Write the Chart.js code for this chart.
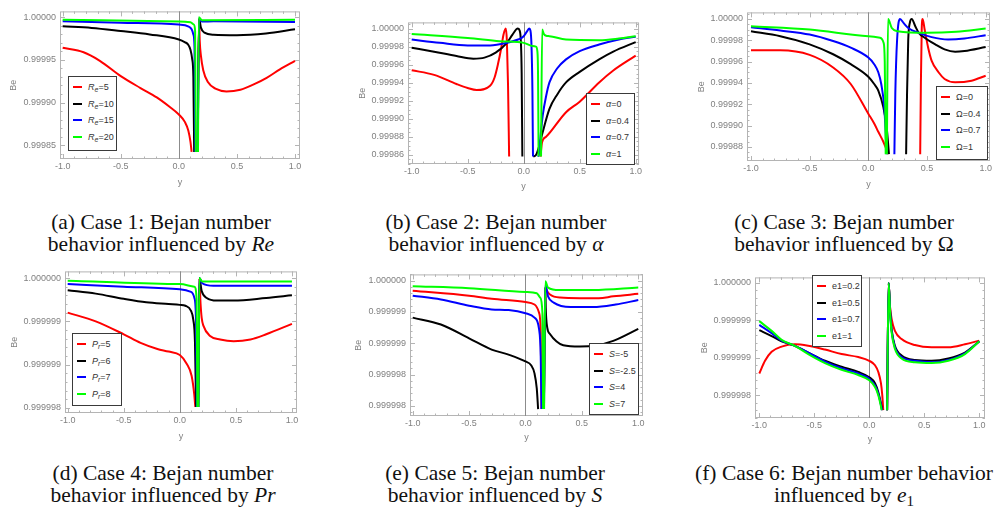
<!DOCTYPE html>
<html>
<head>
<meta charset="utf-8">
<script src="https://cdn.jsdelivr.net/npm/chart.js@4.4.1/dist/chart.umd.min.js"></script>
<style>
  body { margin: 0; width: 995px; height: 510px; background: #fff; position: relative; overflow: hidden; }
  canvas { position: absolute; }
  .legend { position: absolute; background: #fff; border: 1.3px solid #3a3a3a; box-sizing: border-box; }
  .legend .row { position: absolute; left: 0; height: 0; }
  .legend .sw { position: absolute; left: 4px; top: -1px; width: 9px; height: 2px; }
  .legend .lt { position: absolute; left: 19px; top: -6px; font-family: 'Liberation Sans', Arial, sans-serif; font-size: 9px; line-height: 12px; color: #333; white-space: nowrap; }
  .legend sub { font-size: 7px; vertical-align: -2px; line-height: 0; }
  .caption { position: absolute; width: 360px; text-align: center; font-family: 'Liberation Serif', 'DejaVu Serif', 'Times New Roman', Times, serif; font-size: 21.5px; line-height: 22px; color: #111; }
  .caption sub { font-size: 15px; line-height: 0; vertical-align: -4px; }
</style>
</head>
<body>
<script>
// ---- data: [y, Be] pairs, null = curve leaves plot range ----

// (a) Re
const reValues = ['5', '10', '15', '20'];
const reA5 = [[-1, 0.9999643], [-0.82, 0.9999590], [-0.68, 0.9999490], [-0.5, 0.9999310], [-0.33, 0.9999170], [-0.19, 0.9999060], [-0.08, 0.9998950], [0, 0.9998860], [0.053, 0.9998770], [0.082, 0.9998670], [0.1, 0.9998540], [0.11, 0.999842], [0.12, null], [0.16, 0.999842], [0.174, 0.999998], [0.18, 0.999972], [0.19, 0.999955], [0.21, 0.999938], [0.25, 0.999924], [0.32, 0.999916], [0.41, 0.999913], [0.53, 0.999915], [0.64, 0.999921], [0.756, 0.999929], [0.87, 0.999939], [1.0, 0.999949]];
const reA10 = [[-1, 0.9999895], [-0.75, 0.9999876], [-0.5, 0.999984], [-0.25, 0.99998], [0, 0.999974], [0.05, 0.999971], [0.08, 0.999968], [0.1, 0.999962], [0.115, 0.999951], [0.125, 0.99993], [0.132, 0.999842], [0.14, null], [0.162, 0.999842], [0.174, 0.999999], [0.19, 0.999988], [0.22, 0.999982], [0.3, 0.9999795], [0.5, 0.999979], [0.75, 0.999981], [1, 0.999986]];
const reA15 = [[-1, 0.9999953], [-0.5, 0.9999938], [0, 0.9999915], [0.08, 0.9999895], [0.11, 0.999986], [0.125, 0.99998], [0.135, 0.999964], [0.142, 0.999842], [0.15, null], [0.163, 0.999842], [0.174, 0.999999], [0.2, 0.999995], [0.3, 0.9999953], [1, 0.9999946]];
const reA20 = [[-1, 0.9999973], [0, 0.999995], [0.1, 0.9999942], [0.13, 0.9999915], [0.14, 0.999984], [0.146, 0.999842], [0.155, null], [0.165, 0.999842], [0.172, 1.0], [0.2, 0.9999965], [1, 0.9999973]];
const yTicksA = [0.99985, 0.9999, 0.99995, 1.0];
const yLabelsA = ['0.99985', '0.99990', '0.99995', '1.00000'];

// (b) alpha
const alphaValues = ['0', '0.4', '0.7', '1'];
const alB0 = [[-1, 0.9999538], [-0.8, 0.9999487], [-0.6, 0.9999385], [-0.5, 0.9999341], [-0.42, 0.9999319], [-0.3, 0.9999366], [-0.26, 0.9999458], [-0.23, 0.9999604], [-0.2, 0.9999788], [-0.18, 0.9999934], [-0.16, 1.0], [-0.15, 0.9999861], [-0.14, 0.9999385], [-0.13, 0.999858], [-0.12, null], [0.15, 0.999858], [0.164, 0.999874], [0.2, 0.99988], [0.378, 0.9999073], [0.5, 0.999919], [0.674, 0.9999403], [0.8, 0.9999535], [1.0, 0.99997]];
const alB04 = [[-1, 0.9999788], [-0.8, 0.9999744], [-0.6, 0.9999696], [-0.45, 0.9999667], [-0.35, 0.9999678], [-0.25, 0.9999733], [-0.15, 0.9999842], [-0.1, 0.9999934], [-0.052, 1.0], [-0.035, 0.9999975], [-0.025, 0.999985], [-0.018, 0.99995], [-0.012, 0.999858], [-0.005, null], [0.085, 0.999858], [0.111, 0.99986], [0.141, 0.999871], [0.17, 0.9998853], [0.23, 0.999911], [0.3, 0.999927], [0.378, 0.9999403], [0.5, 0.999952], [0.674, 0.9999659], [0.8, 0.9999745], [1.0, 0.999985]];
const alB07 = [[-1, 0.9999879], [-0.75, 0.9999842], [-0.5, 0.9999813], [-0.3, 0.9999813], [-0.15, 0.9999842], [-0.05, 0.9999879], [0, 0.9999916], [0.03, 0.999997], [0.05, 1.0], [0.06, 0.999998], [0.07, 0.99998], [0.078, 0.99993], [0.083, 0.999858], [0.09, null], [0.128, 0.999858], [0.135, 0.99986], [0.15, 0.99988], [0.17, 0.9999037], [0.2, 0.999925], [0.23, 0.9999403], [0.3, 0.999956], [0.378, 0.9999659], [0.5, 0.999975], [0.674, 0.9999824], [0.85, 0.999988], [1.0, 0.999991]];
const alB1 = [[-1, 0.9999941], [-0.5, 0.9999897], [-0.215, 0.9999861], [0, 0.9999842], [0.081, 0.9999806], [0.11, 0.99998], [0.122, 0.999975], [0.128, 0.99995], [0.133, 0.999858], [0.14, null], [0.155, 0.999858], [0.165, 0.999999], [0.18, 0.999994], [0.2, 0.999992], [0.23, 0.9999916], [0.378, 0.9999879], [0.674, 0.9999872], [0.85, 0.999989], [1.0, 0.9999915]];
const yTicksB = [0.99986, 0.99988, 0.9999, 0.99992, 0.99994, 0.99996, 0.99998, 1.0];
const yLabelsB = ['0.99986', '0.99988', '0.99990', '0.99992', '0.99994', '0.99996', '0.99998', '1.00000'];

// (c) Omega
const omegaValues = ['0', '0.4', '0.7', '1'];
const omC0 = [[-1, 0.9999706], [-0.75, 0.9999706], [-0.5, 0.9999663], [-0.3, 0.9999545], [-0.15, 0.999939], [0, 0.9999111], [0.05, 0.9999019], [0.085, 0.9998941], [0.128, 0.9998848], [0.156, 0.9998771], [0.17, 0.9998731], [0.19, null], [0.442, 0.9998731], [0.448, 0.99994], [0.455, 0.99999], [0.463, 1.0], [0.48, 0.9999901], [0.51, 0.9999731], [0.54, 0.9999607], [0.6, 0.9999498], [0.65, 0.9999437], [0.74, 0.9999406], [0.88, 0.9999421], [1.0, 0.9999467]];
const omC04 = [[-1, 0.9999885], [-0.75, 0.9999839], [-0.5, 0.9999762], [-0.3, 0.9999669], [-0.15, 0.9999576], [0, 0.9999458], [0.05, 0.999939], [0.085, 0.9999328], [0.128, 0.9999173], [0.156, 0.9998988], [0.176, 0.9998731], [0.19, null], [0.322, 0.9998731], [0.33, 0.99993], [0.34, 0.99998], [0.355, 0.999997], [0.37, 1.0], [0.4, 0.9999932], [0.43, 0.999987], [0.48, 0.9999824], [0.57, 0.9999762], [0.65, 0.9999715], [0.74, 0.9999693], [0.82, 0.99997], [1.0, 0.9999737]];
const omC07 = [[-1, 0.9999923], [-0.75, 0.9999892], [-0.5, 0.9999854], [-0.3, 0.9999793], [-0.15, 0.9999731], [0, 0.9999638], [0.05, 0.9999576], [0.085, 0.99995], [0.11, 0.999939], [0.136, 0.999917], [0.148, 0.999893], [0.156, 0.9998731], [0.17, null], [0.222, 0.9998731], [0.23, 0.99993], [0.245, 0.99998], [0.27, 1.0], [0.3, 0.9999963], [0.34, 0.9999916], [0.43, 0.999987], [0.54, 0.999983], [0.68, 0.9999808], [0.82, 0.9999817], [1.0, 0.9999848]];
const omC1 = [[-1, 0.9999932], [-0.5, 0.9999901], [0, 0.9999839], [0.1, 0.9999824], [0.13, 0.9999777], [0.14, 0.99996], [0.148, 0.9998731], [0.155, null], [0.158, 0.9998731], [0.168, 1.0], [0.2, 0.9999916], [0.25, 0.9999885], [0.5, 0.999987], [0.75, 0.999988], [1.0, 0.999991]];
const yTicksC = [0.99988, 0.9999, 0.99992, 0.99994, 0.99996, 0.99998, 1.0];
const yLabelsC = ['0.99988', '0.99990', '0.99992', '0.99994', '0.99996', '0.99998', '1.00000'];

// (d) Pr
const prValues = ['5', '6', '7', '8'];
const prD5 = [[-1, 0.99999960], [-0.75, 0.99999950], [-0.5, 0.99999935], [-0.35, 0.99999925], [-0.2, 0.99999918], [-0.1, 0.99999915], [0, 0.99999911], [0.061, 0.99999901], [0.105, 0.99999887], [0.129, 0.99999865], [0.138, 0.99999851], [0.15, null], [0.163, 0.99999851], [0.174, 1.0], [0.185, 0.99999970], [0.195, 0.99999954], [0.21, 0.99999945], [0.27, 0.99999933], [0.36, 0.99999929], [0.48, 0.99999927], [0.63, 0.99999929], [0.77, 0.99999935], [1.0, 0.99999947]];
const prD6 = [[-1, 0.99999986], [-0.75, 0.99999982], [-0.5, 0.99999976], [-0.3, 0.99999972], [-0.1, 0.99999970], [0, 0.99999969], [0.05, 0.99999968], [0.1, 0.99999962], [0.12, 0.99999952], [0.135, 0.99999926], [0.145, 0.99999851], [0.15, null], [0.165, 0.99999851], [0.174, 1.0], [0.195, 0.99999985], [0.24, 0.99999977], [0.33, 0.99999974], [0.48, 0.99999974], [0.77, 0.99999977], [1.0, 0.99999980]];
const prD7 = [[-1, 0.99999993], [-0.5, 0.99999990], [0, 0.99999987], [0.1, 0.99999984], [0.13, 0.99999977], [0.145, 0.99999948], [0.152, 0.99999851], [0.156, null], [0.165, 0.99999851], [0.174, 1.0], [0.2, 0.99999994], [0.3, 0.99999991], [1.0, 0.99999991]];
const prD8 = [[-1, 0.99999997], [0, 0.99999993], [0.13, 0.99999990], [0.15, 0.99999975], [0.156, 0.99999851], [0.16, null], [0.166, 0.99999851], [0.174, 1.0], [0.2, 0.99999996], [1.0, 0.99999996]];
const yTicksD = [0.9999985, 0.999999, 0.9999995, 1.0];
const yLabelsD = ['0.999998', '0.999999', '0.999999', '1.000000'];

// (e) S
const sValues = ['-5', '-2.5', '4', '7'];
const sE5 = [[-1, 0.99999984], [-0.5, 0.99999976], [-0.3, 0.99999971], [0, 0.99999966], [0.08, 0.99999962], [0.12, 0.99999949], [0.135, 0.99999917], [0.142, 0.99999795], [0.15, null], [0.163, 0.99999795], [0.176, 0.99999991], [0.19, 0.99999984], [0.217, 0.99999978], [0.306, 0.99999973], [0.483, 0.99999972], [0.65, 0.99999972], [0.778, 0.99999975], [1.0, 0.99999979]];
const sE25 = [[-1, 0.99999941], [-0.75, 0.99999930], [-0.5, 0.99999908], [-0.3, 0.99999890], [-0.15, 0.99999882], [0, 0.99999871], [0.05, 0.99999865], [0.08, 0.99999852], [0.1, 0.99999828], [0.112, 0.99999795], [0.12, null], [0.163, 0.99999795], [0.176, 0.99999990], [0.18, 0.99999955], [0.193, 0.99999925], [0.217, 0.99999915], [0.276, 0.99999903], [0.335, 0.99999897], [0.483, 0.99999895], [0.631, 0.99999897], [0.778, 0.99999904], [1.0, 0.99999923]];
const sE4 = [[-1, 0.99999976], [-0.75, 0.99999970], [-0.5, 0.99999960], [-0.3, 0.99999954], [-0.15, 0.99999953], [0, 0.99999948], [0.08, 0.99999941], [0.12, 0.99999923], [0.135, 0.99999880], [0.142, 0.99999795], [0.15, null], [0.164, 0.99999795], [0.176, 0.99999994], [0.2, 0.99999975], [0.25, 0.99999965], [0.4, 0.99999958], [0.6, 0.99999958], [0.8, 0.99999962], [1.0, 0.99999969]];
const sE7 = [[-1, 0.99999991], [-0.5, 0.99999988], [0, 0.99999982], [0.1, 0.99999980], [0.13, 0.99999973], [0.15, 0.99999949], [0.156, 0.99999795], [0.16, null], [0.165, 0.99999795], [0.176, 0.99999999], [0.2, 0.99999989], [0.3, 0.99999985], [0.6, 0.99999985], [1.0, 0.99999989]];
const yTicksE = [0.999998, 0.9999985, 0.999999, 0.9999995, 1.0];
const yLabelsE = ['0.999998', '0.999998', '0.999999', '0.999999', '1.000000'];

// (f) e1
const e1Values = ['0.2', '0.5', '0.7', '1'];
const eF02 = [[-1, 0.99999879], [-0.948, 0.99999896], [-0.888, 0.99999908], [-0.797, 0.99999915], [-0.676, 0.99999918], [-0.555, 0.99999916], [-0.403, 0.99999911], [-0.252, 0.99999905], [-0.1, 0.99999901], [0, 0.99999896], [0.052, 0.99999890], [0.082, 0.99999881], [0.106, 0.99999866], [0.118, 0.99999850], [0.127, 0.99999830], [0.14, null], [0.162, 0.99999830], [0.176, 1.0], [0.188, 0.99999969], [0.203, 0.99999952], [0.233, 0.99999936], [0.294, 0.99999925], [0.415, 0.99999917], [0.567, 0.99999914], [0.718, 0.99999914], [0.87, 0.99999918], [1.0, 0.99999923]];
const eF05 = [[-1, 0.99999937], [-0.888, 0.99999929], [-0.797, 0.99999922], [-0.676, 0.99999916], [-0.555, 0.99999907], [-0.403, 0.99999896], [-0.252, 0.99999888], [-0.1, 0.99999881], [0, 0.99999874], [0.052, 0.99999866], [0.082, 0.99999854], [0.106, 0.99999839], [0.118, 0.99999830], [0.13, null], [0.162, 0.99999830], [0.176, 1.0], [0.191, 0.99999960], [0.203, 0.99999938], [0.233, 0.99999916], [0.294, 0.99999903], [0.415, 0.99999897], [0.567, 0.99999896], [0.718, 0.99999899], [0.87, 0.99999907], [1.0, 0.99999922]];
const eF07 = [[-1, 0.99999944], [-0.888, 0.99999933], [-0.797, 0.99999923], [-0.676, 0.99999916], [-0.555, 0.99999907], [-0.403, 0.99999895], [-0.252, 0.99999886], [-0.1, 0.99999879], [0, 0.99999872], [0.052, 0.99999863], [0.082, 0.99999852], [0.106, 0.99999837], [0.115, 0.99999830], [0.13, null], [0.162, 0.99999830], [0.176, 1.0], [0.191, 0.99999958], [0.203, 0.99999936], [0.233, 0.99999914], [0.294, 0.99999901], [0.415, 0.99999896], [0.567, 0.99999894], [0.718, 0.99999897], [0.87, 0.99999906], [1.0, 0.99999922]];
const eF1 = [[-1, 0.99999949], [-0.888, 0.99999936], [-0.797, 0.99999924], [-0.676, 0.99999916], [-0.555, 0.99999905], [-0.403, 0.99999893], [-0.252, 0.99999884], [-0.1, 0.99999877], [0, 0.99999870], [0.052, 0.99999861], [0.082, 0.99999850], [0.106, 0.99999835], [0.112, 0.99999830], [0.13, null], [0.162, 0.99999830], [0.176, 1.0], [0.191, 0.99999956], [0.203, 0.99999934], [0.233, 0.99999912], [0.294, 0.99999899], [0.415, 0.99999894], [0.567, 0.99999893], [0.718, 0.99999896], [0.87, 0.99999905], [1.0, 0.99999922]];
const yTicksF = [0.9999985, 0.999999, 0.9999995, 1.0];
const yLabelsF = ['0.999998', '0.999999', '0.999999', '1.000000'];

const xTickVals = [-1, -0.5, 0, 0.5, 1];
const xTickLabels = ['-1.0', '-0.5', '0.0', '0.5', '1.0'];

const colors = ['#ff0000', '#000000', '#0000ff', '#00ff00'];

// ---- panel layout ----
const panels = [
  { series: [reA5, reA10, reA15, reA20], values: reValues, symbol: '<i>R<sub>e</sub></i>',
    xRange: [-1.023, 1.043], yRange: [0.9998337, 1.000007], yTicks: yTicksA, yLabels: yLabelsA, yMinor: 1e-5,
    frame: { l: 60, t: 10, r: 300, b: 159 }, yTitleX: 14, xTitleY: 183,
    legend: { x: 68, y: 76, w: 49, h: 75 },
    caption: '(a) Case 1: Bejan number<br>behavior influenced by <i>Re</i>', capX: 161, capY: 211 },
  { series: [alB0, alB04, alB07, alB1], values: alphaValues, symbol: '<i>α</i>',
    xRange: [-1.033, 1.03], yRange: [0.9998498, 1.0000069], yTicks: yTicksB, yLabels: yLabelsB, yMinor: 5e-6,
    frame: { l: 408, t: 21, r: 640, b: 164 }, yTitleX: 363, xTitleY: 187,
    legend: { x: 586, y: 93, w: 49, h: 72 },
    caption: '(b) Case 2: Bejan number<br>behavior influenced by <i>α</i>', capX: 496, capY: 211 },
  { series: [omC0, omC04, omC07, omC1], values: omegaValues, symbol: 'Ω',
    xRange: [-1.034, 1.037], yRange: [0.9998667, 1.0000062], yTicks: yTicksC, yLabels: yLabelsC, yMinor: 5e-6,
    frame: { l: 747, t: 11, r: 990, b: 161 }, yTitleX: 702, xTitleY: 185,
    legend: { x: 936, y: 86, w: 52, h: 74 },
    caption: '(c) Case 3: Bejan number<br>behavior influenced by Ω', capX: 844, capY: 211 },
  { series: [prD5, prD6, prD7, prD8], values: prValues, symbol: '<i>P<sub>r</sub></i>',
    xRange: [-1.024, 1.045], yRange: [0.99999844, 1.000000077], yTicks: yTicksD, yLabels: yLabelsD, yMinor: 1e-7,
    frame: { l: 65, t: 270, r: 297, b: 413 }, yTitleX: 15, xTitleY: 437,
    legend: { x: 72, y: 333, w: 50, h: 73 },
    caption: '(d) Case 4: Bejan number<br>behavior influenced by <i>Pr</i>', capX: 163, capY: 462 },
  { series: [sE5, sE25, sE4, sE7], values: sValues, symbol: '<i>S</i>',
    xRange: [-1.024, 1.042], yRange: [0.99999784, 1.0000001], yTicks: yTicksE, yLabels: yLabelsE, yMinor: 1e-7,
    frame: { l: 410, t: 273, r: 643, b: 416 }, yTitleX: 359, xTitleY: 438,
    legend: { x: 589, y: 343, w: 50, h: 72 },
    caption: '(e) Case 5: Bejan number<br>behavior influenced by <i>S</i>', capX: 495, capY: 462 },
  { series: [eF02, eF05, eF07, eF1], values: e1Values, symbol: 'e1',
    xRange: [-1.039, 1.052], yRange: [0.999998195, 1.000000075], yTicks: yTicksF, yLabels: yLabelsF, yMinor: 1e-7,
    frame: { l: 755, t: 276, r: 985, b: 418 }, yTitleX: 705, xTitleY: 440,
    legend: { x: 812, y: 275, w: 50, h: 72 },
    caption: '(f) Case 6: Bejan number behavior<br>influenced by <i>e</i><sub>1</sub>', capX: 844, capY: 462 }
];

const tickFont = { family: "'Liberation Sans', Arial, sans-serif", size: 9, lineHeight: 1.2 };
const gray = '#808080';

// Mathematica-style frame: box, inward ticks on all sides, axis at y = 0
function makeFrame(p) {
  return {
    id: 'mmaFrame',
    beforeDatasetsDraw(chart) {
      const { ctx, chartArea: a, scales: { x, y } } = chart;
      const seg = (x1, y1, x2, y2) => { ctx.beginPath(); ctx.moveTo(x1, y1); ctx.lineTo(x2, y2); ctx.stroke(); };
      ctx.save();
      ctx.lineWidth = 1;
      ctx.strokeStyle = '#b4b4b4';
      ctx.strokeRect(a.left + 0.5, a.top + 0.5, a.width - 1, a.height - 1);

      for (let k = -10; k <= 10; k++) {
        const len = k % 5 === 0 ? 5 : 2.5;
        const px = Math.round(x.getPixelForValue(k / 10)) + 0.5;
        seg(px, a.bottom, px, a.bottom - len);
        seg(px, a.top, px, a.top + len);
      }
      const y0 = p.yTicks[0];
      const major = p.yTicks[1] - p.yTicks[0];
      for (let k = -40; k <= 400; k++) {
        const v = y0 + k * p.yMinor;
        if (v < p.yRange[0] || v > p.yRange[1]) continue;
        const r = (k * p.yMinor) / major;
        const len = Math.abs(r - Math.round(r)) < 1e-6 ? 5 : 2.5;
        const py = Math.round(y.getPixelForValue(v)) + 0.5;
        seg(a.left, py, a.left + len, py);
        seg(a.right, py, a.right - len, py);
      }
      ctx.strokeStyle = '#8c8c8c';
      const zx = Math.round(x.getPixelForValue(0)) + 0.5;
      seg(zx, a.top, zx, a.bottom);
      ctx.restore();
    }
  };
}

function buildPanel(p) {
  const left = p.yTitleX - 14;
  const top = p.frame.t - 8;
  const w = p.frame.r + 4 - left;
  const h = p.xTitleY + 12 - top;
  const canvas = document.createElement('canvas');
  canvas.width = w;
  canvas.height = h;
  canvas.style.left = left + 'px';
  canvas.style.top = top + 'px';
  canvas.style.width = w + 'px';
  canvas.style.height = h + 'px';
  document.body.appendChild(canvas);

  new Chart(canvas, {
    type: 'line',
    data: {
      datasets: p.series.map((s, i) => ({
        label: p.values[i],
        data: s.map(([x, y]) => ({ x, y })),
        borderColor: colors[i],
        borderWidth: 2,
        pointRadius: 0,
        cubicInterpolationMode: 'monotone',
        spanGaps: false,
        order: 4 - i
      }))
    },
    options: {
      responsive: false,
      animation: false,
      devicePixelRatio: 1,
      events: [],
      layout: { padding: { left: 0, top: 8, right: 4, bottom: 0 } },
      plugins: { legend: { display: false }, tooltip: { enabled: false } },
      scales: {
        x: {
          type: 'linear', min: p.xRange[0], max: p.xRange[1],
          grid: { display: false, drawTicks: false, tickLength: 0 },
          border: { display: false },
          afterBuildTicks: axis => { axis.ticks = xTickVals.map(v => ({ value: v })); },
          afterFit: axis => { axis.height = p.xTitleY + 12 - p.frame.b; },
          ticks: { autoSkip: false, maxRotation: 0, padding: 2, color: gray, font: tickFont,
                   callback: (v, i) => xTickLabels[i] },
          title: { display: true, text: 'y', color: gray, font: tickFont, padding: 6.6 }
        },
        y: {
          type: 'linear', min: p.yRange[0], max: p.yRange[1],
          grid: { display: false, drawTicks: false, tickLength: 0 },
          border: { display: false },
          afterBuildTicks: axis => { axis.ticks = p.yTicks.map(v => ({ value: v })); },
          afterFit: axis => { axis.width = p.frame.l - left; },
          ticks: { autoSkip: false, padding: 4, color: gray, font: tickFont,
                   callback: (v, i) => p.yLabels[i] },
          title: { display: true, text: 'Be', color: gray, font: tickFont, padding: 8.6 }
        }
      }
    },
    plugins: [makeFrame(p)]
  });

  const box = document.createElement('div');
  box.className = 'legend';
  box.style.left = p.legend.x + 'px';
  box.style.top = p.legend.y + 'px';
  box.style.width = p.legend.w + 'px';
  box.style.height = p.legend.h + 'px';
  p.values.forEach((v, i) => {
    const row = document.createElement('div');
    row.className = 'row';
    row.style.top = (10 + i * 16.5) + 'px';
    row.innerHTML = `<span class="sw" style="background:${colors[i]}"></span><span class="lt">${p.symbol}=${v}</span>`;
    box.appendChild(row);
  });
  document.body.appendChild(box);

  const cap = document.createElement('div');
  cap.className = 'caption';
  cap.style.left = (p.capX - 180) + 'px';
  cap.style.top = p.capY + 'px';
  cap.innerHTML = p.caption;
  document.body.appendChild(cap);
}

panels.forEach(buildPanel);
</script>
</body>
</html>
